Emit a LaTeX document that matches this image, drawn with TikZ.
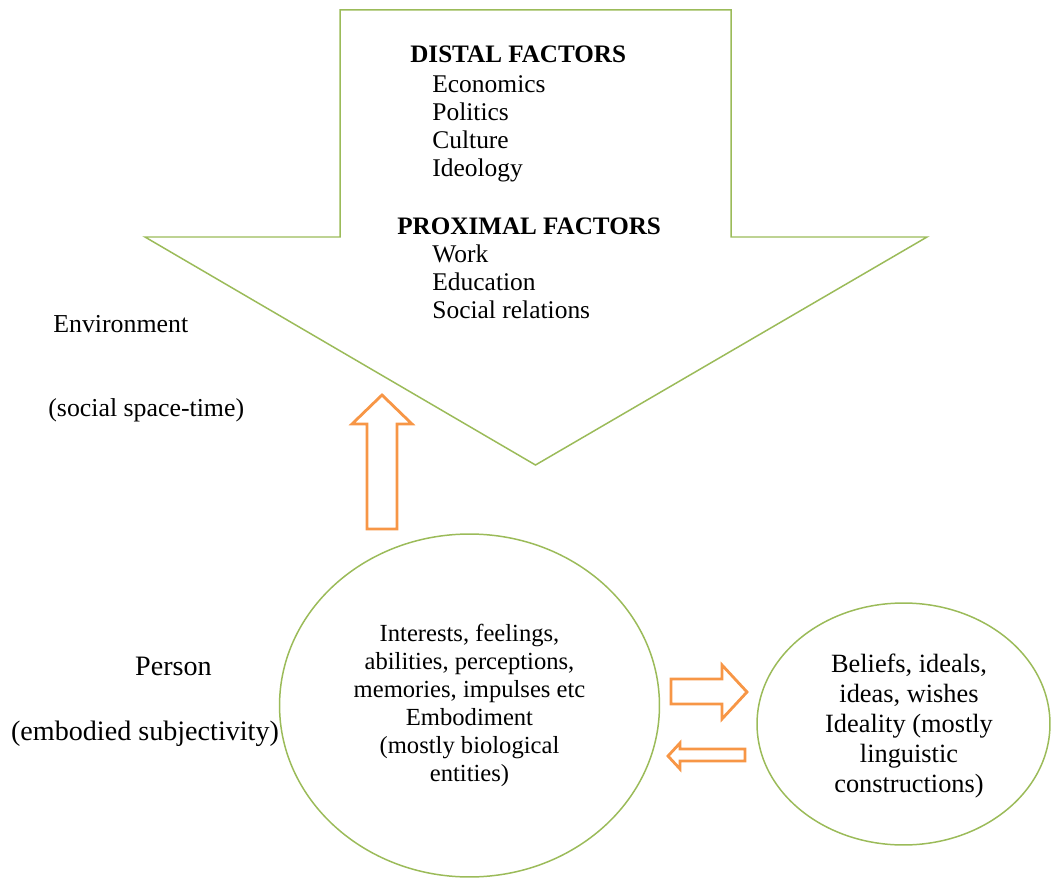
\documentclass[tikz,border=0pt]{standalone}
\usepackage{fontspec}
\setmainfont{Liberation Serif}
\usepackage{xcolor}
\usetikzlibrary{shapes,positioning}
\definecolor{leaf}{HTML}{9BBB59}
\definecolor{peach}{HTML}{F79646}
\tikzset{
    x=0.02cm, y=-0.02cm,
    blob/.style ={ellipse, draw=leaf, line width=0.85pt, inner sep=0pt, align=center},
    frame/.style = {draw=leaf, line width=0.85pt, line join=miter},
    hollow/.style = {draw=peach, line width=1.6pt, line join=miter},
    head/.style = {font=\bfseries\fontsize{14.3}{16}\selectfont, anchor=base west, inner sep=0pt},
    item/.style = {font=\fontsize{14.5}{16}\selectfont, anchor=base west, inner sep=0pt},
    side/.style = {font=\fontsize{14.7}{17}\selectfont, anchor=base west, inner sep=0pt},
    big/.style = {font=\fontsize{16}{18}\selectfont, anchor=base, inner sep=0pt},
    note/.style = {align=center, inner sep=0pt}
}

\begin{document}
\begin{tikzpicture}
        \useasboundingbox (0,0) rectangle (1051,878);

        % big down arrow
        \draw[frame] (340,10) -- (731,10) -- (731,237) -- (927,237)
            -- (535.5,465) -- (145,237) -- (340,237) -- cycle;

        \node[head] (distal) at (410,63) {DISTAL FACTORS};
        \foreach \t [count=\i] in {Economics,Politics,Culture,Ideology}
            \node[item] (d\i) at (432,64.5+28*\i) {\t};

        \node[head] (proximal) at (397,235) {PROXIMAL FACTORS};
        \foreach \t [count=\i] in {Work,Education,Social relations}
            \node[item] (p\i) at (432,235+28*\i) {\t};

        \node[side] (env) at (53,333) {Environment};
        \node[side] (space) at (48,417) {(social space-time)};

        \node[big] (person) at (173.5,675) {Person};
        \node[big] (embodied) at (145,740) {(embodied subjectivity)};

        % circles
        \node[blob, minimum width=7.6cm, minimum height=6.86cm,
              font=\fontsize{14}{15.9}\selectfont] (self) at (469.5,705.5)
            {Interests, feelings,\\ abilities, perceptions,\\ memories, impulses etc\\
             Embodiment\\ (mostly biological\\ entities)};
        \node[blob, minimum width=5.86cm, minimum height=4.84cm] (ideal) at (903.5,724) {};
        \node[note, font=\fontsize{15}{17}\selectfont] (idealtext) at (909,726)
            {Beliefs, ideals,\\ ideas, wishes\\ Ideality (mostly\\ linguistic\\ constructions)};

        % orange arrows
        \draw[hollow] (382,395) -- (412,424) -- (397,424) -- (397,529)
            -- (367,529) -- (367,424) -- (352,424) -- cycle;
        \draw[hollow] (747,692) -- (722,719) -- (722,704) -- (671,704)
            -- (671,679) -- (722,679) -- (722,665) -- cycle;
        \draw[hollow] (668,756) -- (680,743) -- (680,749) -- (745,749)
            -- (745,761) -- (680,761) -- (680,769) -- cycle;
\end{tikzpicture}
\end{document}
